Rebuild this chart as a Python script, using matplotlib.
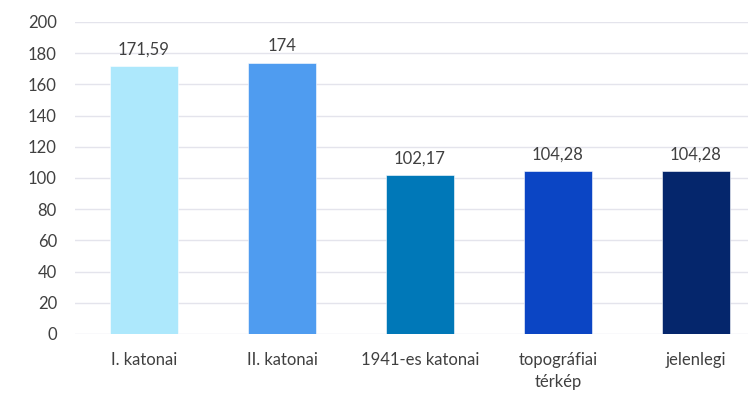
import matplotlib.pyplot as plt
import numpy as np

categories = ['I. katonai', 'II. katonai', '1941-es katonai', 'topográfiai\ntérkép', 'jelenlegi']
values = [171.59, 174, 102.17, 104.28, 104.28]
labels = ['171,59', '174', '102,17', '104,28', '104,28']
colors = ['#ade8fc', '#4f9cf0', '#0078b8', '#0b45c4', '#05266c']

plt.rcParams['font.family'] = ['Lato', 'DejaVu Sans']
text_color = '#404040'

fig = plt.figure(figsize=(7.48, 3.93), dpi=100)
ax = fig.add_axes([75 / 748, 59 / 393, 673 / 748, 312 / 393])

x = np.arange(len(categories))
bars = ax.bar(x, values, width=0.49, color=colors, edgecolor='#ffffff', linewidth=0.4, zorder=3)

# value labels above each bar
for b, lab in zip(bars, labels):
    ax.annotate(lab, (b.get_x() + b.get_width() / 2, b.get_height()),
                xytext=(0, 6), textcoords='offset points',
                ha='center', va='bottom', fontsize=12, color=text_color)

ax.set_xlim(-0.5, -0.5 + 673 / 138)
ax.set_ylim(0, 200)
ax.set_yticks(range(0, 201, 20))
ax.set_xticks(x)
ax.set_xticklabels(categories, linespacing=1.45)
ax.yaxis.grid(True, color='#e4e4ec', linewidth=1, zorder=0)
ax.tick_params(axis='both', length=0, labelsize=12, labelcolor=text_color)
ax.tick_params(axis='x', pad=13)
ax.tick_params(axis='y', pad=13)
for s in ax.spines.values():
    s.set_visible(False)

fig.savefig('out.png', dpi=100)
